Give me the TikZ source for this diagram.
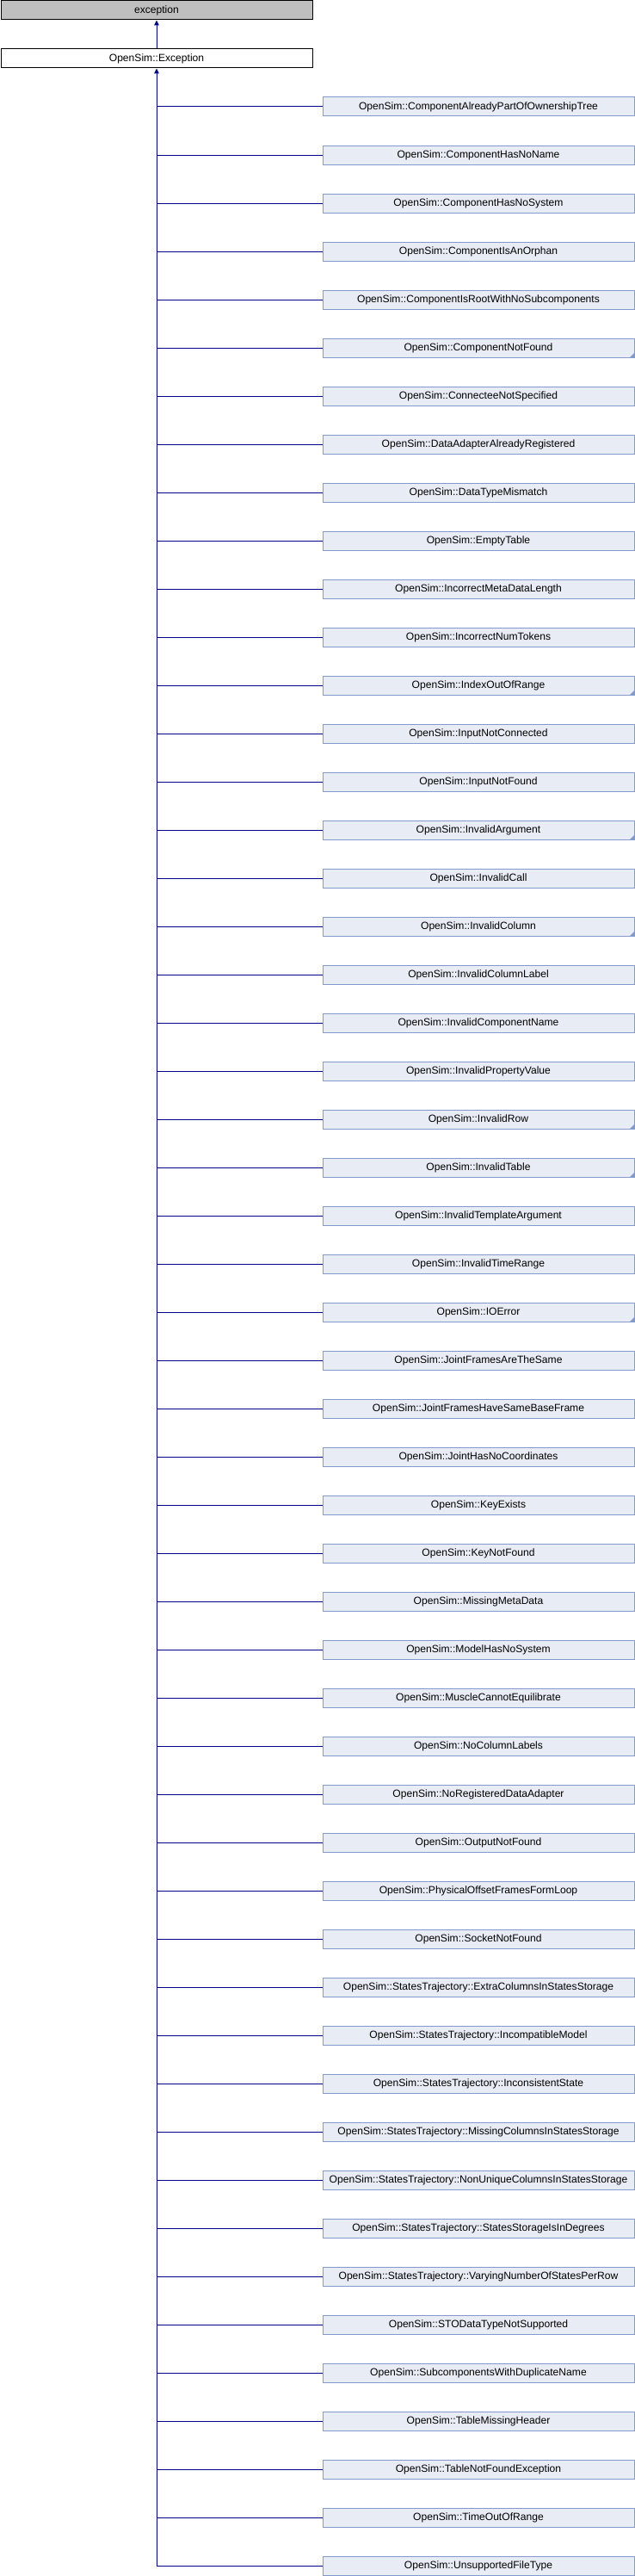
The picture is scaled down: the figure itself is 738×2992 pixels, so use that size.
\documentclass[tikz,border=0pt]{standalone}
\usepackage{fontspec}
\setmainfont{Liberation Sans}
\usetikzlibrary{arrows.meta}
\definecolor{childfill}{RGB}{232,236,244}
\definecolor{childline}{RGB}{132,154,204}
\definecolor{conncol}{RGB}{0,0,140}
\definecolor{grayfill}{RGB}{191,191,191}
\tikzset{
  basebox/.style={rectangle, draw=black, line width=1pt, inner sep=0pt,
    minimum width=362pt, minimum height=22pt, anchor=north west,
    font=\fontsize{12.1}{14}\selectfont, text height=9pt, text depth=2.5pt},
  rootbox/.style={basebox, fill=grayfill},
  parentbox/.style={basebox, fill=white},
  childbox/.style={basebox, draw=childline, fill=childfill},
  conn/.style={draw=conncol, line width=1pt},
  tip/.style={-{Triangle[length=6pt,width=5.5pt]}},
  cornermark/.style={fill=childline}
}
\begin{document}
\begin{tikzpicture}[x=1pt,y=-1pt]
\useasboundingbox[fill=white] (0,0) rectangle (738,2992);
\node[rootbox] (exc) at (0.5,0.5) {exception};
\node[parentbox] (ex) at (0.5,56.5) {OpenSim::Exception};
\draw[conn,tip] (ex.north) -- (exc.south);
\foreach \n/\f [count=\i] in {
 ComponentAlreadyPartOfOwnershipTree/0,
 ComponentHasNoName/0,
 ComponentHasNoSystem/0,
 ComponentIsAnOrphan/0,
 ComponentIsRootWithNoSubcomponents/0,
 ComponentNotFound/1,
 ConnecteeNotSpecified/0,
 DataAdapterAlreadyRegistered/0,
 DataTypeMismatch/0,
 EmptyTable/0,
 IncorrectMetaDataLength/0,
 IncorrectNumTokens/0,
 IndexOutOfRange/1,
 InputNotConnected/0,
 InputNotFound/0,
 InvalidArgument/1,
 InvalidCall/0,
 InvalidColumn/1,
 InvalidColumnLabel/0,
 InvalidComponentName/0,
 InvalidPropertyValue/0,
 InvalidRow/1,
 InvalidTable/1,
 InvalidTemplateArgument/0,
 InvalidTimeRange/0,
 IOError/1,
 JointFramesAreTheSame/0,
 JointFramesHaveSameBaseFrame/0,
 JointHasNoCoordinates/0,
 KeyExists/0,
 KeyNotFound/0,
 MissingMetaData/0,
 ModelHasNoSystem/0,
 MuscleCannotEquilibrate/0,
 NoColumnLabels/0,
 NoRegisteredDataAdapter/0,
 OutputNotFound/0,
 PhysicalOffsetFramesFormLoop/0,
 SocketNotFound/0,
 StatesTrajectory::ExtraColumnsInStatesStorage/0,
 StatesTrajectory::IncompatibleModel/0,
 StatesTrajectory::InconsistentState/0,
 StatesTrajectory::MissingColumnsInStatesStorage/0,
 StatesTrajectory::NonUniqueColumnsInStatesStorage/0,
 StatesTrajectory::StatesStorageIsInDegrees/0,
 StatesTrajectory::VaryingNumberOfStatesPerRow/0,
 STODataTypeNotSupported/0,
 SubcomponentsWithDuplicateName/0,
 TableMissingHeader/0,
 TableNotFoundException/0,
 TimeOutOfRange/0,
 UnsupportedFileType/0}{
  \node[childbox] (c\i) at (374.5,{112.5+56*(\i-1)}) {OpenSim::\n};
  \ifnum\f=1
    \fill[cornermark] ([xshift=-6pt]c\i.south east) -- (c\i.south east) -- ([yshift=6pt]c\i.south east) -- cycle;
  \fi
  \draw[conn] (ex.south |- c\i.west) -- (c\i.west);
}
\draw[conn,tip] (ex.south |- c52.west) -- (ex.south);
\end{tikzpicture}
\end{document}
